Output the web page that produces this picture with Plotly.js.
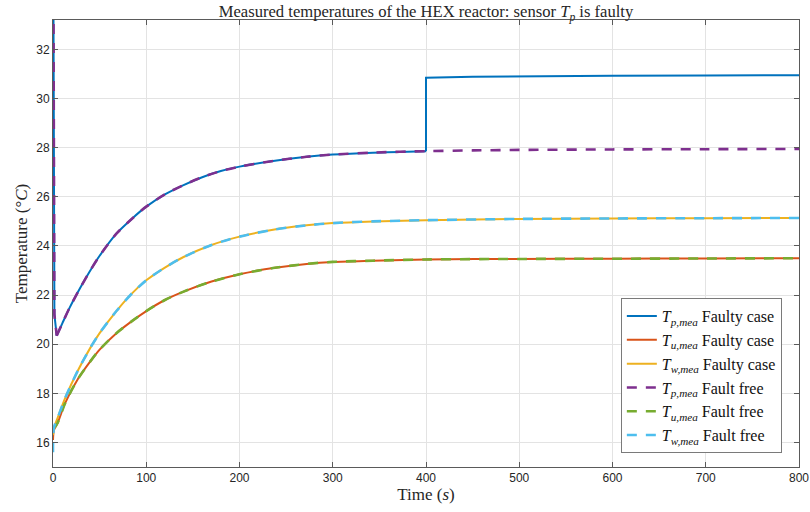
<!DOCTYPE html>
<html>
<head>
<meta charset="utf-8">
<script src="https://cdn.plot.ly/plotly-3.0.1.min.js"></script>
<style>html,body{margin:0;padding:0;background:#fff;}#chart{width:810px;height:512px;}</style>
</head>
<body>
<div id="chart"></div>
<script>
// ---- data ----
// initial sharp drop of Tp (shared by both cases)
const tTpDrop = [0, 1.5, 4];
const TpDrop = [40, 21.2, 20.35];
// smooth rise of Tp up to the fault time (shared)
const tTpRise = [4, 10, 18, 30, 40, 50, 68, 85, 100, 120, 140, 160, 180, 200, 236, 272, 300, 343, 400];
const TpRise = [20.35, 20.85, 21.5, 22.35, 23.0, 23.6, 24.5, 25.12, 25.6, 26.1, 26.48, 26.8, 27.05, 27.23, 27.46, 27.63, 27.72, 27.8, 27.86];
// faulty Tp: step at t = 400 then plateau
const tTpFaultyTail = [400, 400, 450, 500, 600, 700, 800];
const TpFaultyTail = [27.86, 30.85, 30.89, 30.91, 30.93, 30.94, 30.95];
// fault-free Tp after t = 400
const tTpFreeTail = [450, 500, 600, 700, 800];
const TpFreeTail = [27.89, 27.91, 27.93, 27.94, 27.95];

const tT = [0, 1, 5, 13, 27, 40, 50, 68, 85, 100, 120, 140, 170, 200, 236, 272, 300, 343, 400, 500, 600, 700, 800];
const TwFaulty = [16.3, 16.6, 17.0, 17.8, 18.95, 19.85, 20.45, 21.35, 22.08, 22.6, 23.12, 23.55, 24.04, 24.38, 24.66, 24.84, 24.93, 25.0, 25.05, 25.1, 25.12, 25.13, 25.14];
const TwFree   = [15.6, 16.6, 17.0, 17.8, 18.95, 19.85, 20.45, 21.35, 22.08, 22.6, 23.12, 23.55, 24.04, 24.38, 24.66, 24.84, 24.93, 25.0, 25.05, 25.1, 25.12, 25.13, 25.14];
const TuFaulty = [16.1, 16.5, 16.8, 17.6, 18.6, 19.3, 19.78, 20.45, 20.95, 21.35, 21.8, 22.14, 22.55, 22.85, 23.1, 23.27, 23.35, 23.4, 23.45, 23.47, 23.48, 23.49, 23.5];
const TuFree   = [16.6, 16.6, 16.8, 17.6, 18.6, 19.3, 19.78, 20.45, 20.95, 21.35, 21.8, 22.14, 22.55, 22.85, 23.1, 23.27, 23.35, 23.4, 23.45, 23.47, 23.48, 23.49, 23.5];

const names = [
  '<i>T</i><sub><i>p,mea</i></sub> Faulty case',
  '<i>T</i><sub><i>u,mea</i></sub> Faulty case',
  '<i>T</i><sub><i>w,mea</i></sub> Faulty case',
  '<i>T</i><sub><i>p,mea</i></sub> Fault free',
  '<i>T</i><sub><i>u,mea</i></sub> Fault free',
  '<i>T</i><sub><i>w,mea</i></sub> Fault free'
];
const colors = ['#0072BD', '#D95319', '#EDB120', '#7E2F8E', '#77AC30', '#4DBEEE'];

const solid = (c, s) => ({color: c, width: 2, shape: s, smoothing: 0.8});
const dashed = (c, s) => ({color: c, width: 2.6, dash: '10px,9px', shape: s, smoothing: 0.8});

const traces = [
  // Tp faulty
  {x: tTpRise, y: TpRise, name: names[0], legendgroup: 'a', legendrank: 1, line: solid(colors[0], 'spline')},
  {x: tTpDrop, y: TpDrop, name: names[0], legendgroup: 'a', showlegend: false, line: solid(colors[0], 'linear')},
  {x: tTpFaultyTail, y: TpFaultyTail, name: names[0], legendgroup: 'a', showlegend: false, line: solid(colors[0], 'linear')},
  // Tu, Tw faulty
  {x: tT, y: TuFaulty, name: names[1], legendrank: 2, line: solid(colors[1], 'spline')},
  {x: tT, y: TwFaulty, name: names[2], legendrank: 3, line: solid(colors[2], 'spline')},
  // Tp fault free
  {x: tTpRise.concat(tTpFreeTail), y: TpRise.concat(TpFreeTail), name: names[3], legendgroup: 'd', legendrank: 4, line: dashed(colors[3], 'spline')},
  {x: tTpDrop, y: TpDrop, name: names[3], legendgroup: 'd', showlegend: false, line: dashed(colors[3], 'linear')},
  // Tu, Tw fault free
  {x: tT, y: TuFree, name: names[4], legendrank: 5, line: dashed(colors[4], 'spline')},
  {x: tT, y: TwFree, name: names[5], legendrank: 6, line: dashed(colors[5], 'spline')}
].map(t => Object.assign({type: 'scatter', mode: 'lines', hoverinfo: 'skip'}, t));

const serif = 'Liberation Serif, DejaVu Serif, serif';
const sans = 'Liberation Sans, Arial, sans-serif';

const axisCommon = {
  showgrid: true, gridcolor: '#e3e3e3', gridwidth: 1,
  showline: true, linecolor: '#5a5a5a', linewidth: 1, mirror: 'ticks',
  ticks: 'inside', ticklen: 5, tickcolor: '#5a5a5a', tickwidth: 1,
  zeroline: false, tickfont: {family: sans, size: 12, color: '#262626'},
  automargin: false
};

const layout = {
  width: 810, height: 512,
  margin: {l: 53, r: 11, t: 20, b: 45},
  paper_bgcolor: '#fff', plot_bgcolor: '#fff',
  showlegend: true,
  title: {text: 'Measured temperatures of the HEX reactor: sensor <i>T</i><sub><i>p</i></sub> is faulty',
          font: {family: serif, size: 16.6, color: '#262626'},
          x: 0.5, xref: 'paper', xanchor: 'center', y: 0.978, yref: 'container', yanchor: 'middle'},
  xaxis: Object.assign({}, axisCommon, {
    range: [0, 800], tickvals: [0, 100, 200, 300, 400, 500, 600, 700, 800],
    title: {text: 'Time (<i>s</i>)', font: {family: serif, size: 17, color: '#262626'}, standoff: 2}
  }),
  yaxis: Object.assign({}, axisCommon, {
    range: [15, 33.2], tickvals: [16, 18, 20, 22, 24, 26, 28, 30, 32],
    title: {text: 'Temperature (°<i>C</i>)', font: {family: serif, size: 17, color: '#262626'}, standoff: 4}
  }),
  legend: {
    x: 0.977, y: 0.031, xanchor: 'right', yanchor: 'bottom',
    bgcolor: '#fff', bordercolor: '#7a7a7a', borderwidth: 1,
    font: {family: serif, size: 16, color: '#111'},
    tracegroupgap: 0, itemwidth: 30
  }
};

Plotly.newPlot('chart', traces, layout, {staticPlot: true, displayModeBar: false});
</script>
</body>
</html>
